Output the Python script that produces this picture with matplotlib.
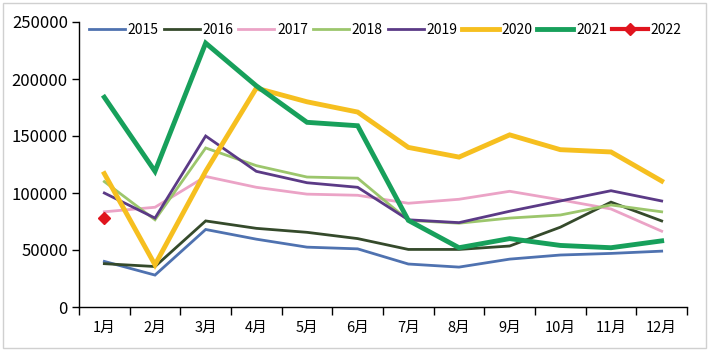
import matplotlib
matplotlib.use("Agg")
import matplotlib.pyplot as plt
import numpy as np
from matplotlib.patches import Rectangle

plt.rcParams['font.family'] = ['Noto Sans CJK SC', 'DejaVu Sans']

months = ['1月', '2月', '3月', '4月', '5月', '6月', '7月', '8月', '9月', '10月', '11月', '12月']
y2015 = [40000, 28000, 68000, 59500, 52500, 51000, 37700, 35000, 42000, 45600, 47000, 49000]
y2016 = [38000, 35500, 75500, 69000, 65500, 60000, 50500, 50500, 53500, 70000, 92000, 75500]
y2017 = [83500, 87500, 114500, 105000, 99000, 98000, 91000, 94500, 101500, 94000, 86000, 66500]
y2018 = [110000, 76500, 139500, 124000, 114000, 113000, 76000, 73500, 78000, 80700, 89500, 83500]
y2019 = [100000, 78000, 150000, 119000, 109000, 105000, 76500, 74000, 84000, 93000, 102000, 93000]
y2020 = [117000, 37000, 119000, 192000, 180000, 171000, 140000, 131500, 151000, 138000, 136000, 110500]
y2021 = [184000, 119000, 231500, 194000, 162000, 159000, 76000, 52000, 60000, 54000, 52000, 58000]
y2022 = [78500]

series = [
    ('2015', y2015, '#4f72b0', 2.0),
    ('2016', y2016, '#354a2b', 2.0),
    ('2017', y2017, '#eba3c6', 2.0),
    ('2018', y2018, '#9cc66c', 2.0),
    ('2019', y2019, '#5b3a86', 2.0),
    ('2020', y2020, '#f6bf1f', 3.5),
    ('2021', y2021, '#17a05b', 3.5),
]

fig = plt.figure(figsize=(7.11, 3.51), dpi=100)
ax = fig.add_axes([79/711, 1-307/351, (687-79)/711, (307-22)/351])
x = np.arange(len(months))
for name, vals, color, lw in series:
    ax.plot(x[:len(vals)], vals, color=color, lw=lw, label=name, solid_joinstyle='miter')
ax.plot(x[:len(y2022)], y2022, color='#e0141e', lw=3, marker='D', markersize=6, label='2022')

ax.set_xlim(-0.5, 11.5)
ax.set_ylim(0, 250000)
ax.set_yticks(range(0, 250001, 50000))
ax.set_yticklabels([str(v) for v in range(0, 250001, 50000)], fontsize=12)
ax.set_xticks(np.arange(-0.5, 12, 1))
ax.set_xticklabels([])
ax.set_xticks(x, minor=True)
ax.set_xticklabels(months, minor=True, fontsize=10.5)
ax.tick_params(axis='x', which='major', length=6, direction='out', width=1)
ax.tick_params(axis='x', which='minor', length=0, pad=10)
ax.tick_params(axis='y', length=5, direction='out', width=1, pad=3)
for s in ['top', 'right']:
    ax.spines[s].set_visible(False)
for s in ['left', 'bottom']:
    ax.spines[s].set_color('black')
    ax.spines[s].set_linewidth(1)

leg = ax.legend(ncol=8, loc='upper left', bbox_to_anchor=(0.007, 1.016), frameon=False,
                fontsize=10, handlelength=2.6, handletextpad=0.2, columnspacing=0.35,
                borderaxespad=0.0, numpoints=1)

fig.patches.append(Rectangle((3/711, 3/351), 703/711, 345/351, transform=fig.transFigure,
                             fill=False, edgecolor='#d0d0d0', lw=1))
fig.savefig('out.png', dpi=100)
